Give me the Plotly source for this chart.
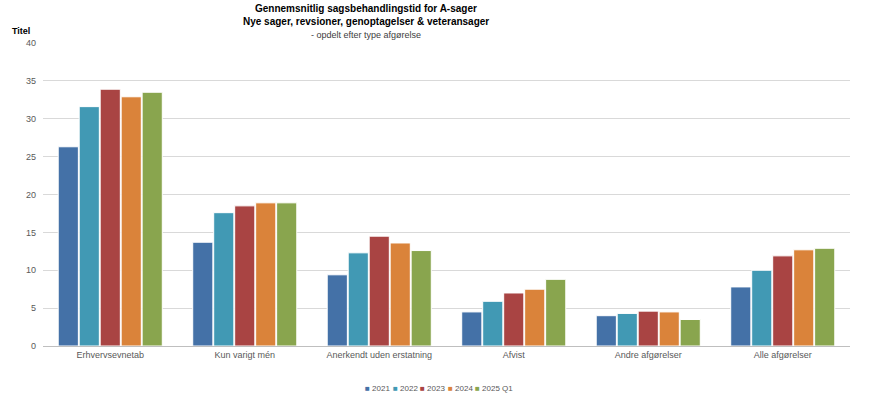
import plotly.graph_objects as go

categories = ["Erhvervsevnetab", "Kun varigt mén", "Anerkendt uden erstatning", "Afvist", "Andre afgørelser", "Alle afgørelser"]
series_names = ["2021", "2022", "2023", "2024", "2025 Q1"]
v2021 = [26.3, 13.7, 9.4, 4.5, 4.0, 7.8]
v2022 = [31.6, 17.6, 12.3, 5.9, 4.3, 10.0]
v2023 = [33.9, 18.5, 14.5, 7.0, 4.6, 11.9]
v2024 = [32.9, 18.9, 13.6, 7.5, 4.5, 12.7]
v2025q1 = [33.5, 18.9, 12.6, 8.8, 3.5, 12.9]
y_ticks = [0, 5, 10, 15, 20, 25, 30, 35, 40]

colors = ["#4471a7", "#4199b4", "#a94443", "#da833a", "#89a54e"]
values = [v2021, v2022, v2023, v2024, v2025q1]

W, H = 870, 396
ML, MR, MT, MB = 43, 20, 43, 50
pw = W - ML - MR
ph = H - MT - MB

def px_x(x):
    return (x - ML) / pw

def px_y(y_from_top):
    return (H - y_from_top - MB) / ph

font = "Liberation Sans, Arial, sans-serif"
fig = go.Figure()
for name, vals, col in zip(series_names, values, colors):
    fig.add_trace(go.Bar(
        x=categories, y=vals, name=name,
        marker=dict(color=col, line=dict(color="white", width=1)),
    ))

annotations = [
    dict(text="<b>Gennemsnitlig sagsbehandlingstid for A-sager</b>", x=px_x(366), y=px_y(9),
         font=dict(size=10, color="#000")),
    dict(text="<b>Nye sager, revsioner, genoptagelser &amp; veteransager</b>", x=px_x(366), y=px_y(22),
         font=dict(size=10, color="#000")),
    dict(text="- opdelt efter type afgørelse", x=px_x(366), y=px_y(35),
         font=dict(size=9, color="#404040")),
    dict(text="<b>Titel</b>", x=px_x(10), y=px_y(31), xanchor="left",
         font=dict(size=9, color="#000")),
]
# custom compact legend
leg_x = [363, 391, 418, 446, 473]
for name, col, lx in zip(series_names, colors, leg_x):
    annotations.append(dict(
        text=f"<span style='color:{col}'>■</span> {name}", x=px_x(lx), y=px_y(388),
        xanchor="left", font=dict(size=8, color="#595959")))
for a in annotations:
    a.update(xref="paper", yref="paper", showarrow=False)
    a.setdefault("xanchor", "center")
    a.setdefault("yanchor", "middle")

fig.update_layout(
    width=W, height=H,
    margin=dict(l=ML, r=MR, t=MT, b=MB, autoexpand=False),
    paper_bgcolor="white", plot_bgcolor="white",
    barmode="group", bargap=0.22, bargroupgap=0.04,
    font=dict(family=font, size=9, color="#595959"),
    showlegend=False,
    xaxis=dict(showgrid=False, ticks="", tickfont=dict(size=9, color="#595959"),
               showline=True, linecolor="#bfbfbf", linewidth=1),
    yaxis=dict(range=[0, 40], tickvals=y_ticks, showgrid=True, gridcolor="#d9d9d9",
               gridwidth=1, zeroline=False, ticks="", ticklen=0,
               tickfont=dict(size=9, color="#595959"), ticklabelstandoff=6),
    annotations=annotations,
)

fig.write_html("out.html", config={"displayModeBar": False},
               post_script="document.body.style.margin='0';")
